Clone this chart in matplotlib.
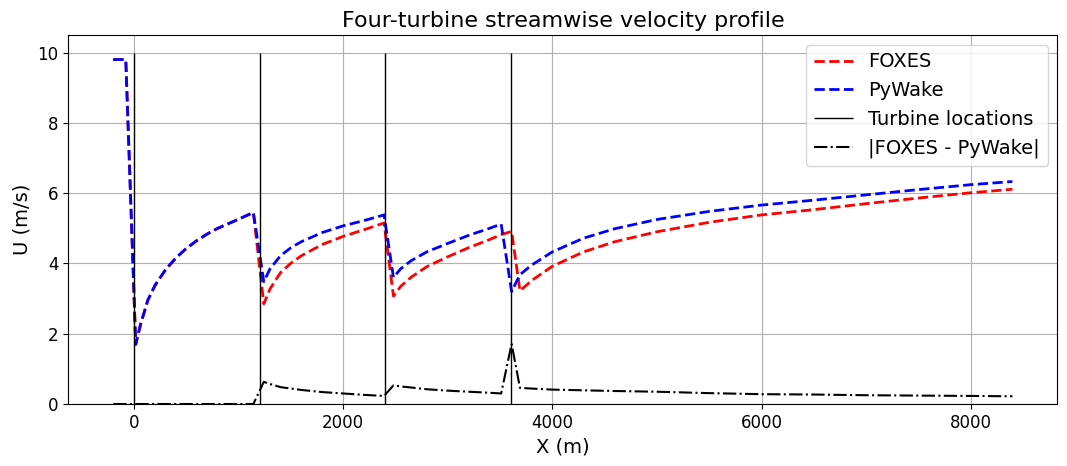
import numpy as np
import matplotlib
matplotlib.use("Agg")
import matplotlib.pyplot as plt

# sample positions along the row (m)
x = [-200, -80, 15, 60, 130, 200, 300, 400, 500, 600, 700, 800, 900, 1000, 1140,
     1240, 1300, 1400, 1500, 1600, 1800, 2000, 2200, 2390,
     2480, 2550, 2650, 2800, 3000, 3200, 3400, 3510,
     3610, 3690, 3800, 4000, 4300, 4600, 5000, 5500, 6000, 6500, 7000, 7500, 8000, 8400]

u_pywake = [9.8, 9.8, 1.7, 2.25, 2.95, 3.38, 3.82, 4.16, 4.43, 4.65, 4.84, 5.0, 5.13, 5.26, 5.45,
            3.48, 3.85, 4.22, 4.45, 4.62, 4.88, 5.07, 5.22, 5.38,
            3.6, 3.85, 4.08, 4.33, 4.57, 4.8, 5.0, 5.12,
            3.2, 3.68, 3.95, 4.33, 4.72, 4.99, 5.25, 5.48, 5.66, 5.8, 5.95, 6.1, 6.24, 6.33]

u_foxes = [9.8, 9.8, 1.7, 2.25, 2.95, 3.38, 3.82, 4.16, 4.43, 4.65, 4.84, 5.0, 5.13, 5.26, 5.45,
           2.85, 3.28, 3.74, 4.01, 4.22, 4.54, 4.77, 4.96, 5.15,
           3.07, 3.35, 3.61, 3.91, 4.19, 4.45, 4.68, 4.82,
           4.91, 3.22, 3.51, 3.92, 4.33, 4.62, 4.9, 5.17, 5.38, 5.53, 5.7, 5.86, 6.01, 6.11]

turbines = [0, 1200, 2400, 3600]

diff = np.abs(np.array(u_foxes) - np.array(u_pywake))

fig, ax = plt.subplots(figsize=(10.67, 4.66), dpi=100)
plt.subplots_adjust(left=0.064, right=0.991, top=0.925, bottom=0.133)

ax.plot(x, u_foxes, "r--", lw=2, label="FOXES")
ax.plot(x, u_pywake, "b--", lw=2, label="PyWake")
ax.vlines(turbines, 0, 10, colors="k", lw=1, label="Turbine locations")
ax.plot(x, diff, "k-.", lw=1.5, label="|FOXES - PyWake|")

ax.set_ylim(bottom=0)
ax.set_title("Four-turbine streamwise velocity profile", fontsize=16)
ax.set_xlabel("X (m)", fontsize=14)
ax.set_ylabel("U (m/s)", fontsize=14)
ax.tick_params(labelsize=12)
ax.grid(True)
ax.legend(loc="upper right", fontsize=14)

plt.savefig("out.png")
